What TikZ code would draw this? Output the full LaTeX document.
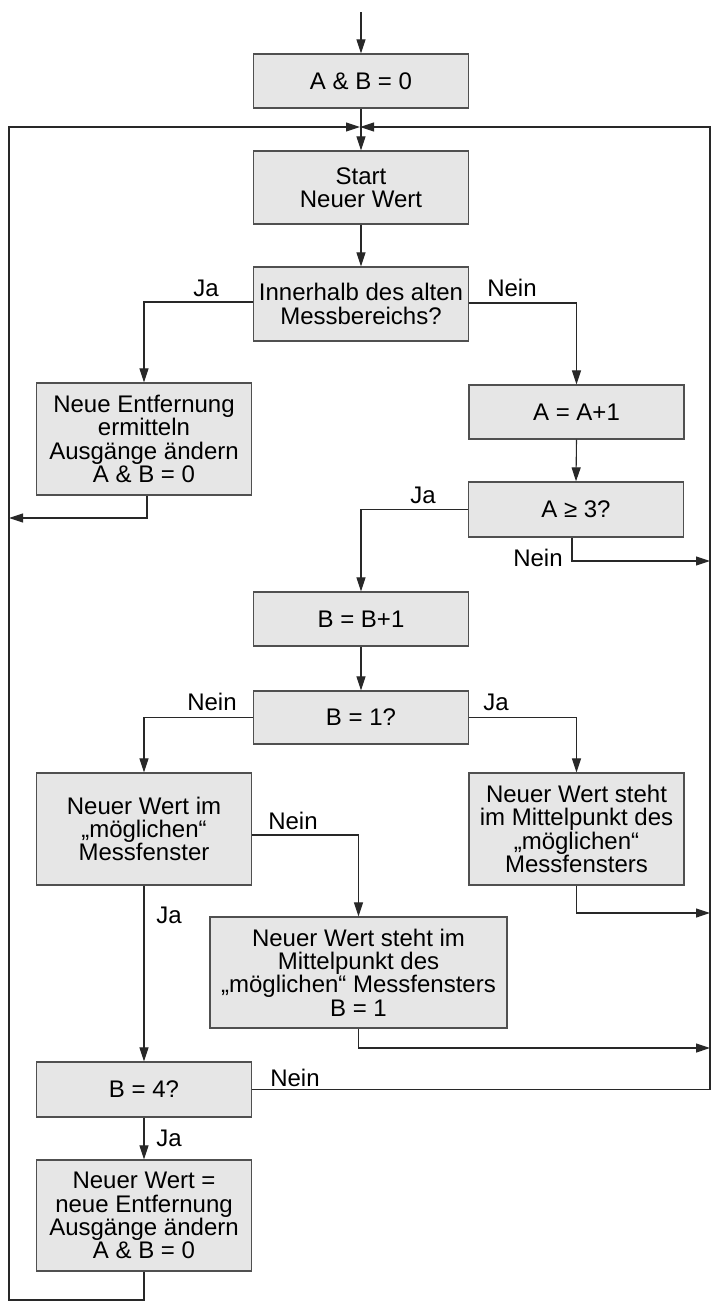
\documentclass[tikz,border=0pt]{standalone}
\usepackage{fontspec}
\setmainfont{Liberation Sans}
\usetikzlibrary{arrows.meta}
\definecolor{boxfill}{HTML}{E6E6E6}
\definecolor{boxline}{HTML}{505050}
\definecolor{linecol}{HTML}{282828}
\begin{document}
\begin{tikzpicture}[x=1pt,y=-1pt,
  box/.style={draw=boxline, fill=boxfill, line width=1.3pt, minimum width=215pt,
    inner sep=0pt, align=center, font=\fontsize{24}{23.3}\selectfont},
  lbl/.style={inner sep=0pt, font=\fontsize{24}{23.3}\selectfont},
  conn/.style={line width=1.1pt, draw=linecol},
  arr/.style={conn, -{Triangle[length=14pt,width=9pt]}}]
\useasboundingbox (0,0) rectangle (721,1309);
\fill[white] (0,0) rectangle (721,1309);

% boxes
\node[box, minimum height=54pt] (b1) at (361,81) {A \& B = 0};
\node[box, minimum height=73pt] (b2) at (361,187.5) {Start\\Neuer Wert};
\node[box, minimum height=74pt] (b3) at (361,304) {Innerhalb des alten\\Messbereichs?};
\node[box, minimum height=112pt] (b4) at (144,439) {Neue Entfernung\\ermitteln\\Ausgänge ändern\\A \& B = 0};
\node[box, minimum height=54pt] (b5) at (576.5,412) {A = A+1};
\node[box, minimum height=55pt] (b6) at (576,509.5) {A ≥ 3?};
\node[box, minimum height=54pt] (b7) at (361,619) {B = B+1};
\node[box, minimum height=53pt] (b8) at (361,717.5) {B = 1?};
\node[box, minimum height=112pt] (b9) at (144,829) {Neuer Wert im\\„möglichen“\\Messfenster};
\node[box, minimum height=112pt] (b10) at (576.5,829) {Neuer Wert steht\\im Mittelpunkt des\\„möglichen“\\Messfensters};
\node[box, minimum height=111pt, minimum width=297pt] (b11) at (358.5,972.5) {Neuer Wert steht im\\Mittelpunkt des\\„möglichen“ Messfensters\\B = 1};
\node[box, minimum height=55pt] (b12) at (144,1089.5) {B = 4?};
\node[box, minimum height=111pt] (b13) at (144,1215.5) {Neuer Wert =\\neue Entfernung\\Ausgänge ändern\\A \& B = 0};

% helper coordinates
\coordinate (top) at (361,12);
\coordinate (m) at (360,127);
\coordinate (lt) at (9,127);
\coordinate (lb) at (9,1300);
\coordinate (lj) at (9,518);
\coordinate (rt) at (710,127);
\coordinate (r1) at (710,561);
\coordinate (r2) at (710,913);
\coordinate (r3) at (710,1048);

% main flow
\draw[arr] (top) -- (b1.north);
\draw[arr] (b1.south) -- (b2.north);
\draw[arr] (b2.south) -- (b3.north);
\draw[arr] ([yshift=2pt]b3.west) -| (b4.north);
\draw[arr] ([yshift=1pt]b3.east) -| (b5.north);
\draw[arr] ([xshift=3pt]b4.south) |- (lj);
\draw[arr] (b5.south) -- (b6.north);
\draw[arr] (b6.west) -| (b7.north);
\draw[arr] ([xshift=-4pt]b6.south) |- (r1);
\draw[arr] (b7.south) -- (b8.north);
\draw[arr] (b8.west) -| (b9.north);
\draw[arr] (b8.east) -| (b10.north);
\draw[arr] ([yshift=-6pt]b9.east) -| (b11.north);
\draw[arr] (b10.south) |- (r2);
\draw[arr] (b11.south) |- (r3);
\draw[arr] (b9.south) -- (b12.north);
\draw[arr] (b12.south) -- (b13.north);
% loops back
\draw[arr] (b13.south) |- (lb) -- (lt) -- (m);
\draw[arr] (b12.east) -- (b12.east -| rt) -- (rt) -- (m);

% labels
\node[lbl] (l1) at (206,288) {Ja};
\node[lbl] (l2) at (512,288) {Nein};
\node[lbl] (l3) at (423,495) {Ja};
\node[lbl] (l4) at (538,558) {Nein};
\node[lbl] (l5) at (212,702) {Nein};
\node[lbl] (l6) at (496,702) {Ja};
\node[lbl] (l7) at (293,821) {Nein};
\node[lbl] (l8) at (169,915) {Ja};
\node[lbl] (l9) at (295,1078) {Nein};
\node[lbl] (l10) at (169,1138) {Ja};
\end{tikzpicture}
\end{document}
